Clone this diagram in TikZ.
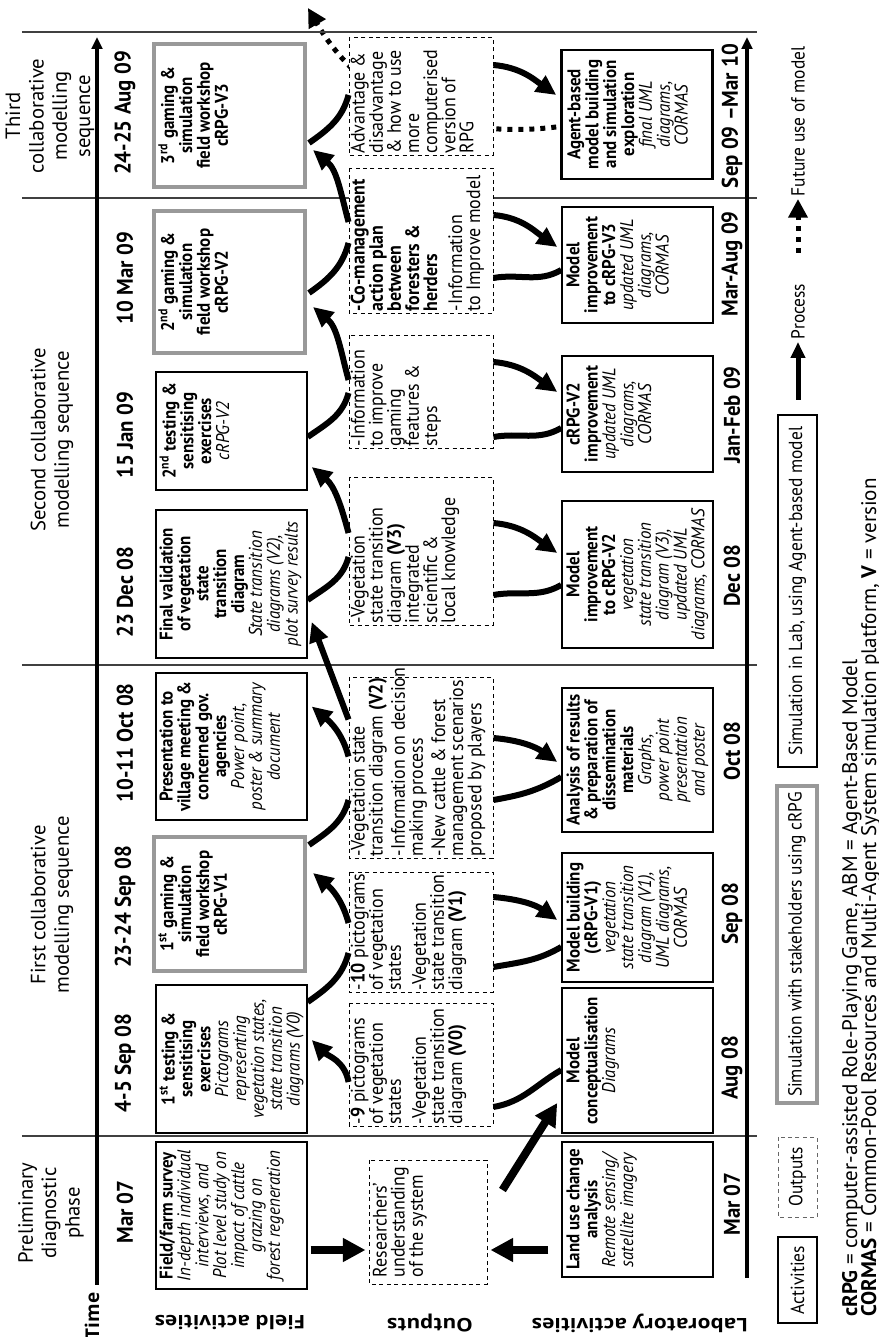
\documentclass[tikz,border=0pt]{standalone}
\usepackage{fontspec}
\setmainfont{PT Sans}[FakeStretch=0.92]
\newfontfamily\hdfont{PT Sans}
\newfontfamily\rowfont{Open Sans}
\newfontfamily\rowfontw{Open Sans}[FakeStretch=1.12]
\usetikzlibrary{arrows.meta,calc}
\pgfdeclarelayer{bg}
\pgfsetlayers{bg,main}
\tikzset{
  boxsize/.style 2 args={minimum width=#1*0.75pt, minimum height=#2*0.75pt},
  abox/.style={draw=black, line width=1.1pt, fill=white, inner sep=0pt},
  thickbox/.style={draw=black, line width=1.9pt, fill=white, inner sep=0pt},
  gbox/.style={draw=black!40, line width=3pt, fill=white, inner sep=0pt},
  obox/.style={draw=black, line width=0.7pt, dash pattern=on 3pt off 2.6pt, fill=white, inner sep=0pt},
  btxt/.style={anchor=north, align=center, inner sep=0pt, font=\fontsize{13.8}{13.4}\selectfont},
  otxt/.style={anchor=north west, align=left, inner sep=0pt, font=\fontsize{14.6}{13.6}\selectfont},
  datelab/.style={inner sep=0pt, font=\fontsize{17}{19}\selectfont\bfseries},
  phaselab/.style={inner sep=0pt, align=center, font=\hdfont\fontsize{15.5}{17.5}\selectfont},
  rowlabel/.style={inner sep=0pt, rotate=90, font=\rowfontw\bfseries\fontsize{14}{16}\selectfont},
  timelabel/.style={inner sep=0pt, font=\rowfont\bfseries\fontsize{14.2}{16}\selectfont},
  legtxt/.style={inner sep=0pt, font=\fontsize{14.2}{16}\selectfont},
  fnote/.style={anchor=base west, inner sep=0pt, font=\hdfont\fontsize{15.8}{17}\selectfont},
  flow/.style={line width=4.5pt, -{Triangle[length=15pt,width=14pt]}},
  feed/.style={line width=4.5pt},
  bigflow/.style={line width=6pt, -{Triangle[length=17pt,width=17pt]}},
  sepline/.style={line width=1.1pt, draw=black!75},
  timeaxis/.style={line width=2.8pt, -{Triangle[length=9pt,width=8pt]}},
  future/.style={line width=3.75pt, dash pattern=on 3.75pt off 4.5pt, -{Triangle[length=14pt,width=14pt]}},
  legflow/.style={line width=3.75pt, -{Triangle[length=12pt,width=10.5pt]}},
}
\begin{document}
\begin{tikzpicture}[x=0.75pt,y=0.75pt]
\begin{scope}[rotate=90, transform shape]
\path[use as bounding box] (0,0) rectangle (1337,878);

% ---------- separator lines ----------
\coordinate (s0a) at (1305,856); \coordinate (s0b) at (1305,121);
\coordinate (s1a) at (1139,856); \coordinate (s1b) at (1139,121);
\coordinate (s2a) at (672,856);  \coordinate (s2b) at (672,121);
\coordinate (s3a) at (201,856);  \coordinate (s3b) at (201,121);
\draw[sepline] (s0a) -- (s0b);
\draw[sepline] (s1a) -- (s1b);
\draw[sepline] (s2a) -- (s2b);
\draw[sepline] (s3a) -- (s3b);

% ---------- time axes ----------
\coordinate (ax1s) at (52,781); \coordinate (ax1e) at (1300,781);
\coordinate (ax2s) at (59,131); \coordinate (ax2e) at (1300,131);
\draw[timeaxis] (ax1s) -- (ax1e);
\draw[timeaxis] (ax2s) -- (ax2e);

% ---------- labels ----------
\node[timelabel] (timelab) at (21,786) {Time};
\node[rowlabel] (rowfa) at (14,648) {Field activities};
\node[rowlabel] (rowout) at (14,448) {Outputs};
\node[rowlabel] (rowlb) at (14,238) {Laboratory activities};

\node[phaselab] (ph1) at (124,827) {Preliminary\\diagnostic\\phase};
\node[phaselab] (ph2) at (432,826) {First collaborative\\modelling sequence};
\node[phaselab] (ph3) at (897,826) {Second collaborative\\modelling sequence};
\node[phaselab] (ph4) at (1221,828) {Third\\collaborative\\modelling\\sequence};

\node[datelab] (d1) at (125,753) {Mar 07};
\node[datelab] (d2) at (274,753) {4-5 Sep 08};
\node[datelab] (d3) at (430,753) {23-24 Sep 08};
\node[datelab] (d4) at (594,753) {10-11 Oct 08};
\node[datelab] (d5) at (745,753) {23 Dec 08};
\node[datelab] (d6) at (902,753) {15 Jan 09};
\node[datelab] (d7) at (1059,753) {10 Mar 09};
\node[datelab] (d8) at (1224,753) {24-25 Aug 09};

\node[datelab] (ld1) at (133,146) {Mar 07};
\node[datelab] (ld2) at (269,146) {Aug 08};
\node[datelab] (ld3) at (423,146) {Sep 08};
\node[datelab] (ld4) at (586,146) {Oct 08};
\node[datelab] (ld5) at (761,146) {Dec 08};
\node[datelab] (ld6) at (922,146) {Jan-Feb 09};
\node[datelab] (ld7) at (1073,146) {Mar-Aug 09};
\node[datelab] (ld8) at (1221,146) {Sep 09 --Mar 10};

% ---------- field activity boxes ----------
\node[abox, boxsize={147}{151}] (fa1) at (121.5,646.5) {};
\node[abox, boxsize={148}{151}] (fa2) at (278,646.5) {};
\node[gbox, boxsize={134}{151}] (fa3) at (433,648.5) {};
\node[abox, boxsize={147}{151}] (fa4) at (590.5,646.5) {};
\node[abox, boxsize={148}{151}] (fa5) at (753,646.5) {};
\node[abox, boxsize={118}{151}] (fa6) at (906,646.5) {};
\node[gbox, boxsize={142}{151}] (fa7) at (1055,648.5) {};
\node[gbox, boxsize={143}{151}] (fa8) at (1221.5,648.5) {};

\node[btxt] (fa1t) at ($(fa1.north)+(0,-4)$) {\textbf{Field/farm survey}\\\textit{In-depth individual}\\\textit{interviews, and}\\\textit{Plot level study on}\\\textit{impact of cattle}\\\textit{grazing on}\\\textit{forest regeneration}};
\node[btxt] (fa2t) at ($(fa2.north)+(0,-4)$) {\textbf{1\textsuperscript{st} testing \&}\\\textbf{sensitising}\\\textbf{exercises}\\\textit{Pictograms}\\\textit{representing}\\\textit{vegetation states,}\\\textit{state transition}\\\textit{diagrams (V0)}};
\node[btxt] (fa3t) at ($(fa3.north)+(0,-6)$) {\textbf{1\textsuperscript{st} gaming \&}\\\textbf{simulation}\\\textbf{field workshop}\\\textbf{cRPG-V1}};
\node[btxt] (fa4t) at ($(fa4.north)+(0,-4)$) {\textbf{Presentation to}\\\textbf{village meeting \&}\\\textbf{concerned gov.}\\\textbf{agencies}\\\textit{Power point,}\\\textit{poster \& summary}\\\textit{document}};
\node[btxt] (fa5t) at ($(fa5.north)+(0,-4)$) {\textbf{Final validation}\\\textbf{of vegetation}\\\textbf{state}\\\textbf{transition}\\\textbf{diagram}\\\textit{State transition}\\\textit{diagrams (V2),}\\\textit{plot survey results}};
\node[btxt] (fa6t) at ($(fa6.north)+(0,-4)$) {\textbf{2\textsuperscript{nd} testing \&}\\\textbf{sensitising}\\\textbf{exercises}\\\textit{cRPG-V2}};
\node[btxt] (fa7t) at ($(fa7.north)+(0,-6)$) {\textbf{2\textsuperscript{nd} gaming \&}\\\textbf{simulation}\\\textbf{field workshop}\\\textbf{cRPG-V2}};
\node[btxt] (fa8t) at ($(fa8.north)+(0,-6)$) {\textbf{3\textsuperscript{rd} gaming \&}\\\textbf{simulation}\\\textbf{field workshop}\\\textbf{cRPG-V3}};

% ---------- output boxes ----------
\node[obox, boxsize={124}{118}] (o1) at (115,450) {};
\node[obox, boxsize={123}{144}] (o2) at (272.5,457) {};
\node[obox, boxsize={120}{144}] (o3) at (405,457) {};
\node[obox, boxsize={181}{144}] (o4) at (569.5,457) {};
\node[obox, boxsize={148}{144}] (o5) at (786,457) {};
\node[obox, boxsize={113}{144}] (o6) at (945.5,457) {};
\node[obox, boxsize={145}{144}] (o7) at (1096.5,457) {};
\node[obox, boxsize={118}{144}] (o8) at (1241,457) {};

\node[otxt] (o1t) at ($(o1.north west)+(7,-4)$) {Researchers’\\understanding\\of the system};
\node[otxt] (o2t) at ($(o2.north west)+(2,-2)$) {-\textbf{9} pictograms\\of vegetation\\states\\[5pt]-Vegetation\\state transition\\diagram \textbf{(V0)}};
\node[otxt] (o3t) at ($(o3.north west)+(2,-2)$) {-\textbf{10} pictograms\\of vegetation\\states\\[5pt]-Vegetation\\state transition\\diagram \textbf{(V1)}};
\node[otxt] (o4t) at ($(o4.north west)+(2,-2)$) {-Vegetation state\\transition diagram \textbf{(V2)}\\[3pt]-Information on decision\\making process\\[3pt]-New cattle \& forest\\management scenarios\\proposed by players};
\node[otxt] (o5t) at ($(o5.north west)+(2,-2)$) {-Vegetation\\state transition\\diagram \textbf{(V3)}\\integrated\\scientific \&\\local knowledge};
\node[otxt] (o6t) at ($(o6.north west)+(2,-2)$) {-Information\\to improve\\gaming\\features \&\\steps};
\node[otxt] (o7t) at ($(o7.north west)+(2,-2)$) {\textbf{-Co-management}\\\textbf{action plan}\\\textbf{between}\\\textbf{foresters \&}\\\textbf{herders}\\[5pt]-Information\\to Improve model};
\node[otxt] (o8t) at ($(o8.north west)+(2,-2)$) {Advantage \&\\disadvantage\\\& how to use\\more\\computerised\\version of\\RPG};

% ---------- laboratory boxes ----------
\node[abox, boxsize={135}{151}] (l1) at (127.5,240.5) {};
\node[abox, boxsize={145}{151}] (l2) at (276.5,240.5) {};
\node[abox, boxsize={129}{151}] (l3) at (419.5,240.5) {};
\node[abox, boxsize={144}{151}] (l4) at (577,240.5) {};
\node[abox, boxsize={147}{151}] (l5) at (762.5,240.5) {};
\node[abox, boxsize={116}{151}] (l6) at (923,240.5) {};
\node[abox, boxsize={116}{151}] (l7) at (1072,240.5) {};
\node[thickbox, boxsize={129}{151}] (l8) at (1222.5,241) {};

\node[btxt] (l1t) at ($(l1.north)+(0,-5)$) {\textbf{Land use change}\\\textbf{analysis}\\\textit{Remote sensing/}\\\textit{satellite imagery}};
\node[btxt] (l2t) at ($(l2.north)+(0,-5)$) {\textbf{Model}\\\textbf{conceptualisation}\\\textit{Diagrams}};
\node[btxt] (l3t) at ($(l3.north)+(0,-5)$) {\textbf{Model building}\\\textbf{(cRPG-V1)}\\\textit{vegetation}\\\textit{state transition}\\\textit{diagram (V1),}\\\textit{UML diagrams,}\\\textit{CORMAS}};
\node[btxt] (l4t) at ($(l4.north)+(0,-5)$) {\textbf{Analysis of results}\\\textbf{\& preparation of}\\\textbf{dissemination}\\\textbf{materials}\\\textit{Graphs,}\\\textit{power point}\\\textit{presentation}\\\textit{and poster}};
\node[btxt] (l5t) at ($(l5.north)+(0,-5)$) {\textbf{Model}\\\textbf{improvement}\\\textbf{to cRPG-V2}\\\textit{vegetation}\\\textit{state transition}\\\textit{diagram (V3),}\\\textit{updated UML}\\\textit{diagrams, CORMAS}};
\node[btxt] (l6t) at ($(l6.north)+(0,-5)$) {\textbf{cRPG-V2}\\\textbf{improvement}\\\textit{updated UML}\\\textit{diagrams,}\\\textit{CORMAS}};
\node[btxt] (l7t) at ($(l7.north)+(0,-5)$) {\textbf{Model}\\\textbf{improvement}\\\textbf{to cRPG-V3}\\\textit{updated UML}\\\textit{diagrams,}\\\textit{CORMAS}};
\node[btxt] (l8t) at ($(l8.north)+(0,-7)$) {\textbf{Agent-based}\\\textbf{model building}\\\textbf{and simulation}\\\textbf{exploration}\\\textit{final UML}\\\textit{diagrams,}\\\textit{CORMAS}};

% ---------- straight arrows ----------
\draw[bigflow] ($(fa1.south)+(-34.5,-3)$) -- ($(o1.north)+(-28,3)$);
\draw[bigflow] ($(l1.north)+(-40.5,13)$) -- ($(o1.south)+(-28,-3)$);
\draw[bigflow] ($(o1.south)+(32,-15)$) -- ($(l2.north)+(-42.5,4)$);

% ---------- field side ----------
\draw[feed] ($(fa2.south)+(57,0)$) to[out=-55,in=165] ($(o3.north)+(-21,0)$);
\draw[flow] ($(o3.north)+(9,0)$) to[out=15,in=-130] ($(fa3.south)+(31,-6)$);
\draw[feed] ($(fa3.south)+(59,-2)$) to[out=-55,in=165] ($(o4.north)+(-32.5,0)$);
\draw[flow] ($(o4.north)+(11,0)$) to[out=15,in=-130] ($(fa4.south)+(40,-4)$);
\draw[flow] ($(o4.north)+(48,0)$) -- ($(fa5.south)+(-38,-4)$);
\draw[feed] ($(fa5.south)+(-16,0)$) to[out=-55,in=165] ($(o5.north)+(-6,0)$);
\draw[flow] ($(o5.north)+(18,0)$) to[out=15,in=-130] ($(fa6.south)+(-36,-4)$);
\draw[feed] ($(fa6.south)+(-6,0)$) to[out=-55,in=165] ($(o6.north)+(-1.5,0)$);
\draw[flow] ($(o6.north)+(11.5,0)$) to[out=15,in=-130] ($(fa7.south)+(-25,-6)$);
\draw[feed] ($(fa7.south)+(-11,-2)$) to[out=-55,in=165] ($(o7.north)+(-2.5,0)$);
\draw[flow] ($(o7.north)+(18.5,0)$) to[out=15,in=-130] ($(fa8.south)+(-34.5,-6)$);
\draw[feed] ($(fa8.south)+(-27.5,-2)$) to[out=-55,in=165] ($(o8.north)+(1,0)$);
\draw[flow] ($(o2.north)+(-17.5,0)$) to[out=10,in=-135] ($(fa2.south)+(19,-4)$);

% ---------- laboratory side ----------
\draw[feed] ($(l2.north)+(-9.5,0)$) to[out=120,in=-80] ($(o2.south)+(-42.5,0)$);
\draw[flow] ($(o3.south)+(35,0)$) to[out=-95,in=55] ($(l3.north)+(-2.5,4)$);
\draw[feed] ($(l3.north)+(-29.5,0)$) to[out=120,in=-80] ($(o3.south)+(-35,0)$);
\draw[flow] ($(o4.south)+(29.5,0)$) to[out=-95,in=55] ($(l4.north)+(-2,4)$);
\draw[feed] ($(l4.north)+(-17,0)$) to[out=120,in=-80] ($(o4.south)+(-32.5,0)$);
\draw[flow] ($(o5.south)+(28,0)$) to[out=-95,in=55] ($(l5.north)+(21.5,4)$);
\draw[feed] ($(l5.north)+(-10.5,0)$) to[out=120,in=-80] ($(o5.south)+(-44,0)$);
\draw[flow] ($(o6.south)+(29.5,0)$) to[out=-95,in=55] ($(l6.north)+(22,4)$);
\draw[feed] ($(l6.north)+(-14,0)$) to[out=120,in=-80] ($(o6.south)+(-45.5,0)$);
\draw[flow] ($(o7.south)+(25.5,0)$) to[out=-95,in=55] ($(l7.north)+(18,4)$);
\draw[feed] ($(l7.north)+(-5,0)$) to[out=120,in=-80] ($(o7.south)+(-37.5,0)$);
\draw[flow] ($(o8.south)+(31,0)$) to[out=-95,in=55] ($(l8.north)+(19.5,4)$);

% ---------- future use ----------
\coordinate (fut) at (1329,570);
\begin{pgfonlayer}{bg}
\draw[future] ($(l8.north)+(-12.5,4)$) to[out=97,in=-150] (fut);
\end{pgfonlayer}

% ---------- legend ----------
\node[abox, boxsize={86}{39}, legtxt] (lg1) at (57,80.5) {Activities};
\node[obox, draw=black!60, boxsize={80}{39}, legtxt] (lg2) at (160,80.5) {Outputs};
\node[gbox, boxsize={317}{40}, legtxt] (lg3) at (392.5,81) {Simulation with stakeholders using cRPG};
\node[thickbox, boxsize={352}{39}, legtxt] (lg4) at (746,80.5) {Simulation in Lab, using Agent-based model};
\coordinate (pst) at (937,80);
\node[legtxt, anchor=west, inner sep=2pt] (ptxt) at (995,80) {Process};
\draw[legflow] (pst) -- (ptxt.west);
\coordinate (fst) at (1084,80);
\node[legtxt, anchor=west, inner sep=2pt] (ftxt) at (1138,80) {Future use of model};
\draw[future] (fst) -- (ftxt.west);

\node[fnote] (fn1) at (20,21) {\textbf{cRPG} = computer-assisted Role-Playing Game, ABM = Agent-Based Model};
\node[fnote] (fn2) at (20,2) {\textbf{CORMAS} = Common-Pool Resources and Multi-Agent System simulation platform, \textbf{V} = version};
\end{scope}
\end{tikzpicture}
\end{document}
